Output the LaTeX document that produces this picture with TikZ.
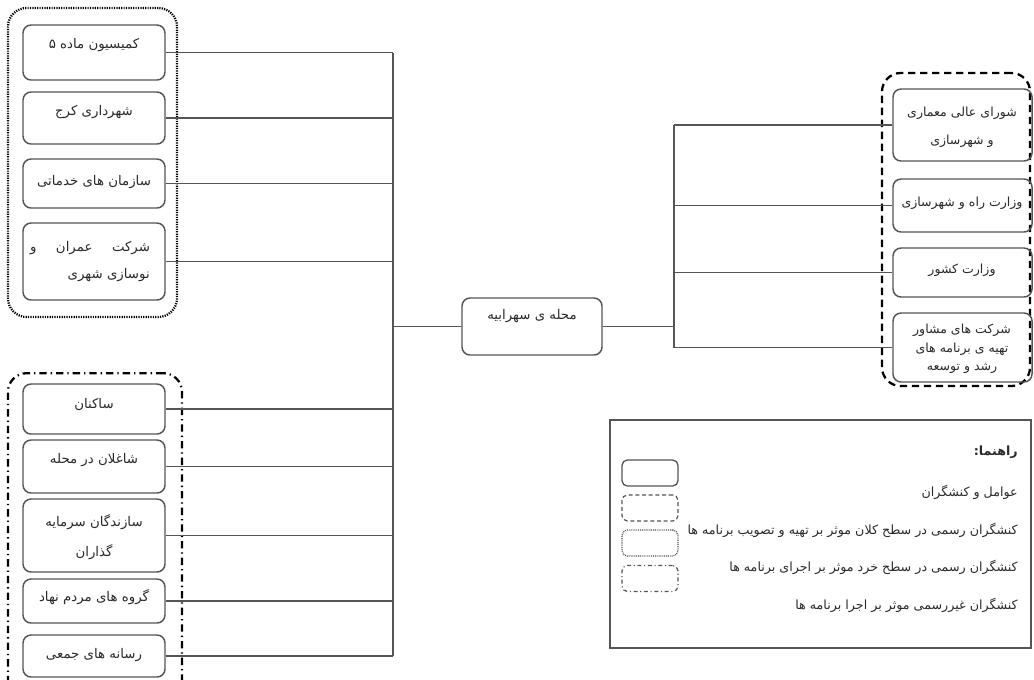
\documentclass[tikz,border=0pt]{standalone}
\usepackage{fontspec}
\newfontfamily\arabicfont[Script=Arabic]{DejaVu Sans}
\TeXXeTstate=1
\newcommand{\fa}[1]{\beginR #1\endR}
\definecolor{linegray}{HTML}{555555}
\definecolor{textgray}{HTML}{2A2A2A}
\begin{document}
\begin{tikzpicture}[x=0.75pt,y=-0.75pt,
  box/.style={draw=linegray, line width=1.1pt, rounded corners=6pt, inner sep=0pt},
  txt/.style={font=\arabicfont\fontsize{10}{12}\selectfont, text=textgray, inner sep=0pt},
  smalltxt/.style={font=\arabicfont\fontsize{9.4}{11}\selectfont, text=textgray, inner sep=0pt},
  legtxt/.style={font=\arabicfont\fontsize{9.5}{11}\selectfont, text=textgray, inner sep=0pt, anchor=east},
  conn/.style={draw=linegray, line width=1.05pt},
  grpdot/.style={draw=black, line width=1.7pt, rounded corners=14pt, dash pattern=on 0.9pt off 0.9pt},
  grpdash/.style={draw=black, line width=1.7pt, rounded corners=14pt, dash pattern=on 5.5pt off 3.5pt},
  grpdashdot/.style={draw=black, line width=1.7pt, rounded corners=14pt, dash pattern=on 5.5pt off 3pt on 1pt off 3pt},
  legsym/.style={draw=linegray, rounded corners=4pt, minimum width=42pt, minimum height=19.5pt, inner sep=0pt}
]
\useasboundingbox (0,0) rectangle (1034,679);
% groups
\node[grpdot, minimum width=126.75pt, minimum height=231.75pt] (gdot) at (92.5,162.5) {};
\node[grpdash, minimum width=111pt, minimum height=234.75pt] (gdash) at (956,229.5) {};
\begin{scope}
\clip (0,0) rectangle (1034,679);
\node[grpdashdot, minimum width=130.5pt, minimum height=245pt] (gdd) at (95,536.5) {};
\end{scope}
% left top boxes
\node[box, minimum width=106.5pt, minimum height=41.25pt] (k1) at (94,52.5) {};
\node[box, minimum width=106.5pt, minimum height=39pt] (k2) at (94,118) {};
\node[box, minimum width=106.5pt, minimum height=36.75pt] (k3) at (94,183.5) {};
\node[box, minimum width=106.5pt, minimum height=57.75pt] (k4) at (94,261.5) {};
% left bottom boxes
\node[box, minimum width=106.5pt, minimum height=37.5pt] (l1) at (94,409) {};
\node[box, minimum width=106.5pt, minimum height=39.75pt] (l2) at (94,466.5) {};
\node[box, minimum width=106.5pt, minimum height=54.75pt] (l3) at (94,535.5) {};
\node[box, minimum width=106.5pt, minimum height=33pt] (l4) at (94,601) {};
\node[box, minimum width=106.5pt, minimum height=31.5pt] (l5) at (94,656) {};
% center
\node[box, minimum width=105pt, minimum height=42.75pt] (c) at (532,326.5) {};
% right boxes
\node[box, minimum width=104.25pt, minimum height=54pt] (r1) at (962.5,125) {};
\node[box, minimum width=104.25pt, minimum height=39.75pt] (r2) at (962.5,205.5) {};
\node[box, minimum width=104.25pt, minimum height=36.75pt] (r3) at (962.5,272.5) {};
\node[box, minimum width=104.25pt, minimum height=51.75pt] (r4) at (962.5,347.5) {};
% texts
\node[txt] (tk1) at (94,45) {\fa{کمیسیون ماده ۵}};
\node[txt] (tk2) at (94,112) {\fa{شهرداری کرج}};
\node[txt] (tk3) at (94,182) {\fa{سازمان های خدماتی}};
\node[txt] (tk4a) at (90,248) {\hbox to 90pt{\beginR شرکت\hfill عمران\hfill و\endR}};
\node[txt, anchor=east] (tk4b) at (150,275) {\fa{نوسازی شهری}};
\node[txt] (tl1) at (94,405) {\fa{ساکنان}};
\node[txt] (tl2) at (94,460) {\fa{شاغلان در محله}};
\node[txt] (tl3a) at (94,522) {\fa{سازندگان سرمایه}};
\node[txt] (tl3b) at (94,552) {\fa{گذاران}};
\node[txt] (tl4) at (94,597) {\fa{گروه های مردم نهاد}};
\node[txt] (tl5) at (94,655) {\fa{رسانه های جمعی}};
\node[txt] (tc) at (532,316) {\fa{محله ی سهرابیه}};
\node[smalltxt] (tr1a) at (962,113) {\fa{شورای عالی معماری}};
\node[smalltxt] (tr1b) at (962,141) {\fa{و شهرسازی}};
\node[smalltxt] (tr2) at (962,203) {\fa{وزارت راه و شهرسازی}};
\node[smalltxt] (tr3) at (962,270) {\fa{وزارت کشور}};
\node[smalltxt] (tr4a) at (962,330) {\fa{شرکت های مشاور}};
\node[smalltxt] (tr4b) at (962,349) {\fa{تهیه ی برنامه های}};
\node[smalltxt] (tr4c) at (962,368) {\fa{رشد و توسعه}};
% spines
\coordinate (spL) at (393,0);
\coordinate (spR) at (674,0);
\draw[conn] (k1.east -| spL) -- (l5.east -| spL);
\foreach \n in {k1,k2,k3,k4,l1,l2,l3,l4,l5} {\draw[conn] (\n.east) -- (\n.east -| spL);}
\draw[conn] (c.west) -- (c.west -| spL);
\draw[conn] (c.east) -- (c.east -| spR);
\draw[conn] (r1.west -| spR) -- (r4.west -| spR);
\foreach \n in {r1,r2,r3,r4} {\draw[conn] (\n.west) -- (\n.west -| spR);}
% legend
\node[draw=linegray, line width=0.9pt, minimum width=315.75pt, minimum height=171pt, inner sep=0pt] (leg) at (820.5,534) {};
\node[legsym, line width=1pt] (s1) at (650,473) {};
\node[legsym, line width=0.9pt, dash pattern=on 3pt off 2pt] (s2) at (650,508) {};
\node[legsym, line width=0.9pt, dash pattern=on 0.7pt off 0.7pt] (s3) at (650,543) {};
\node[legsym, line width=0.9pt, dash pattern=on 3pt off 2pt on 0.8pt off 2pt] (s4) at (650,578.5) {};
\node[legtxt, font=\arabicfont\bfseries\fontsize{9.5}{11}\selectfont] (lt0) at (1018,452) {\fa{راهنما:}};
\node[legtxt] (lt1) at (1018,492) {\fa{عوامل و کنشگران}};
\node[legtxt] (lt2) at (1018,530) {\fa{کنشگران رسمی در سطح کلان موثر بر تهیه و تصویب برنامه ها}};
\node[legtxt] (lt3) at (1018,567) {\fa{کنشگران رسمی در سطح خرد موثر بر اجرای برنامه ها}};
\node[legtxt] (lt4) at (1018,605) {\fa{کنشگران غیررسمی موثر بر اجرا برنامه ها}};
\end{tikzpicture}
\end{document}
